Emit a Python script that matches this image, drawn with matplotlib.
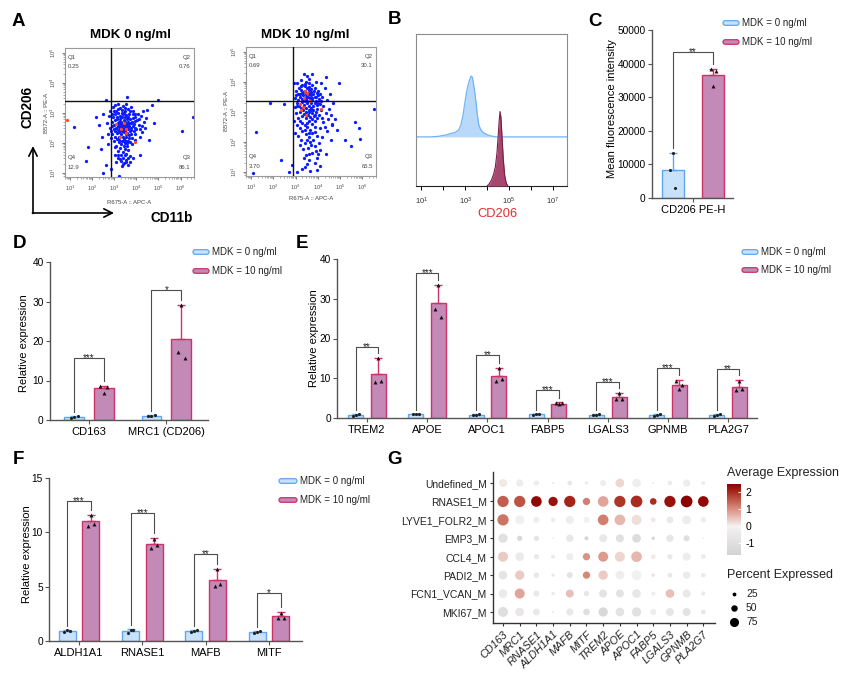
import numpy as np
import matplotlib
matplotlib.use("Agg")
import matplotlib.pyplot as plt
from matplotlib.patches import FancyBboxPatch
from matplotlib.colors import LinearSegmentedColormap, Normalize
from matplotlib.cm import ScalarMappable
from matplotlib.ticker import NullFormatter

plt.rcParams["font.family"] = ["Liberation Sans", "DejaVu Sans"]
plt.rcParams["mathtext.fontset"] = "custom"
plt.rcParams["mathtext.rm"] = "Liberation Sans"
plt.rcParams["mathtext.it"] = "Liberation Sans:italic"
plt.rcParams["mathtext.bf"] = "Liberation Sans:bold"
plt.rcParams["axes.unicode_minus"] = False

W, H = 848, 693

series = ["MDK = 0 ng/ml", "MDK = 10 ng/ml"]

# ---------------- A: flow dot plots (log10 CD11b APC, log10 CD206 PE) ----------------
a0_blue = [
    (3.05, 2.95), (3.12, 2.80), (3.20, 2.70), (3.28, 2.62), (3.35, 2.55), (3.42, 2.48), (3.50, 2.40), (3.58, 2.32),
    (3.65, 2.25), (3.00, 2.60), (3.08, 2.50), (3.15, 2.42), (3.22, 2.35), (3.30, 2.28), (3.38, 2.20), (3.45, 2.12),
    (3.55, 2.05), (3.10, 3.05), (3.18, 2.98), (3.26, 2.90), (3.34, 2.84), (3.42, 2.76), (3.50, 2.70), (3.58, 2.62),
    (3.66, 2.56), (3.74, 2.48), (3.25, 3.15), (3.34, 3.08), (3.44, 3.00), (3.52, 2.92), (3.62, 2.86), (3.72, 2.78),
    (3.80, 2.70), (3.90, 2.62), (2.95, 2.85), (2.90, 2.70), (2.98, 2.45), (2.92, 2.30), (3.02, 2.20), (3.12, 2.12),
    (3.20, 2.02), (3.30, 1.95), (3.42, 1.88), (3.60, 3.12), (3.70, 3.05), (3.85, 2.95), (3.95, 2.85), (4.05, 2.75),
    (4.12, 2.60), (4.00, 2.45), (3.88, 2.38), (3.78, 2.30), (3.68, 2.15), (3.58, 1.98), (3.48, 1.80), (3.38, 1.70),
    (3.30, 1.60), (3.40, 1.50), (3.52, 1.62), (3.62, 1.75), (3.25, 1.82), (3.15, 1.72), (3.10, 1.90), (2.98, 2.05),
    (2.85, 2.15), (2.80, 2.50), (2.75, 2.90), (2.82, 3.05), (2.95, 3.18), (3.05, 3.25), (3.18, 3.28), (3.40, 3.22),
    (3.55, 3.30), (3.75, 3.20), (4.20, 2.90), (4.30, 3.05), (4.25, 2.35), (4.15, 2.20), (3.95, 2.10), (3.80, 1.95),
    (3.72, 1.55), (3.55, 1.42), (3.45, 1.32), (3.30, 1.38), (3.18, 1.50), (3.05, 1.60), (3.60, 1.25), (3.35, 1.22),
    (3.48, 2.58), (3.32, 2.70), (3.22, 2.52), (3.15, 2.65), (3.60, 2.45), (3.70, 2.38), (3.45, 2.35), (3.28, 2.42),
    (3.38, 2.95), (3.50, 3.05), (3.65, 2.95), (3.85, 2.55), (3.92, 2.72), (4.08, 2.95), (3.12, 2.32), (3.05, 2.75),
    (2.88, 2.55), (3.52, 2.18), (3.75, 2.65), (3.62, 2.70), (3.40, 2.62), (3.25, 2.78), (3.85, 2.82), (3.95, 2.30),
    (3.35, 2.05), (3.48, 1.98), (3.20, 2.20), (4.35, 2.70), (4.45, 2.82), (4.40, 2.50), (2.70, 2.30), (2.65, 2.65),
    (2.70, 1.95), (3.10, 1.35), (3.70, 1.35), (3.85, 1.50),
    (3.33, 2.38), (3.47, 2.52), (3.57, 2.60), (3.27, 2.57), (3.37, 2.45), (3.53, 2.28), (3.63, 2.52), (3.43, 2.42),
    (3.17, 2.55), (3.27, 2.68), (3.47, 2.86), (3.57, 2.78), (3.67, 2.64), (3.77, 2.42), (3.13, 2.85), (3.03, 2.38),
    (3.23, 2.10), (3.43, 2.05), (3.63, 2.05), (3.82, 2.15), (3.92, 2.50), (3.33, 3.00), (3.47, 3.14), (3.87, 3.05),
    (3.15, 1.60), (3.47, 1.60), (3.60, 1.50), (3.25, 1.45), (3.52, 1.35), (3.38, 1.28), (3.05, 1.85), (3.58, 1.88),
    (3.70, 2.02), (2.90, 2.95), (3.95, 2.95), (4.10, 2.80), (4.18, 2.45), (3.15, 3.12), (3.00, 3.05), (2.85, 2.40),
    (2.62, 3.43), (5.00, 3.43), (3.59, 3.53), (1.18, 2.52), (2.18, 2.84), (6.57, 2.87), (6.08, 2.39), (1.80, 1.87),
    (2.40, 1.78), (1.70, 1.40), (2.62, 1.25), (2.85, 1.14), (2.47, 1.00), (3.22, 0.88), (4.16, 1.59), (4.56, 2.09),
    (4.78, 2.65), (4.49, 3.10), (4.71, 3.27), (4.26, 2.54), (2.30, 2.60), (2.50, 2.95), (2.45, 2.20),
]
a0_red = [(3.08, 2.62), (3.45, 2.66), (3.30, 2.45), (3.55, 2.47), (3.25, 2.20), (3.55, 2.33), (3.92, 2.03), (0.85, 2.76)]
a0_gate = (2.87, 3.39)
a0_quad = ["0.25", "0.76", "86.1", "12.9"]  # Q1, Q2, Q3, Q4

a1_blue = [
    (3.10, 3.60), (3.20, 3.50), (3.30, 3.42), (3.40, 3.35), (3.50, 3.28), (3.60, 3.20), (3.70, 3.12), (3.80, 3.05),
    (3.90, 2.98), (3.05, 3.30), (3.15, 3.20), (3.25, 3.12), (3.35, 3.05), (3.45, 2.98), (3.55, 2.90), (3.65, 2.82),
    (3.75, 2.75), (3.85, 2.68), (3.15, 3.80), (3.25, 3.72), (3.35, 3.65), (3.45, 3.58), (3.55, 3.50), (3.65, 3.44),
    (3.75, 3.38), (3.85, 3.30), (3.95, 3.22), (3.30, 3.90), (3.40, 3.85), (3.50, 3.78), (3.60, 3.72), (3.70, 3.65),
    (3.80, 3.58), (3.92, 3.50), (4.05, 3.42), (4.15, 3.35), (2.95, 3.45), (2.98, 3.15), (3.02, 2.95), (3.10, 2.80),
    (3.20, 2.70), (3.30, 2.62), (3.40, 2.55), (3.52, 2.48), (3.65, 2.40), (3.45, 4.00), (3.58, 3.95), (3.72, 3.88),
    (3.85, 3.80), (4.00, 3.70), (4.10, 3.60), (4.20, 3.50), (4.25, 3.20), (4.15, 3.05), (4.05, 2.90), (3.95, 2.80),
    (3.85, 2.50), (3.75, 2.30), (3.60, 2.15), (3.45, 2.25), (3.30, 2.35), (3.18, 2.45), (3.08, 2.55), (2.92, 2.70),
    (3.00, 3.70), (3.08, 3.95), (3.22, 4.05), (3.62, 4.10), (3.90, 4.00), (4.30, 3.80), (4.40, 3.40), (4.35, 2.95),
    (4.45, 2.75), (4.25, 2.65), (4.10, 2.45), (3.95, 2.20), (3.80, 2.05), (3.70, 1.90), (3.55, 1.80), (3.40, 1.95),
    (3.25, 2.05), (3.48, 3.42), (3.38, 3.22), (3.28, 3.32), (3.58, 3.05), (3.68, 3.30), (3.78, 3.18), (3.42, 3.70),
    (3.55, 3.62), (3.32, 3.55), (3.62, 2.70), (3.72, 2.95), (3.88, 2.88), (3.98, 3.10), (4.08, 3.25), (3.18, 3.00),
    (3.12, 3.40), (3.02, 3.55), (3.48, 2.78), (3.85, 3.48), (3.95, 3.62), (3.70, 3.55), (3.25, 3.85), (3.52, 4.20),
    (3.38, 4.25), (4.00, 3.30), (4.50, 3.10), (4.60, 2.90), (4.55, 3.60), (4.70, 3.30), (4.62, 2.55), (4.40, 2.35),
    (4.20, 2.15), (4.05, 1.95), (3.90, 1.70), (3.35, 1.75), (3.20, 1.90), (3.10, 2.20), (2.95, 2.30), (2.92, 3.95),
    (3.75, 4.25), (4.15, 3.95),
    (3.45, 3.48), (3.52, 3.35), (3.62, 3.58), (3.33, 3.42), (3.58, 3.83), (3.68, 3.75), (3.42, 3.93), (3.28, 3.62),
    (3.73, 3.45), (3.82, 3.68), (3.48, 3.12), (3.38, 2.92), (3.58, 2.98), (3.68, 3.05), (3.28, 2.85), (3.92, 3.35),
    (4.02, 3.55), (3.18, 3.58), (3.08, 3.18), (3.52, 2.62), (3.72, 2.60), (3.82, 2.85), (3.42, 2.40), (3.62, 2.28),
    (3.88, 2.32), (4.18, 2.80), (4.30, 2.50), (3.65, 2.00), (3.50, 2.05), (3.85, 1.85), (4.00, 1.60), (3.72, 1.62),
    (3.45, 1.55), (3.60, 1.38), (3.85, 1.30), (3.42, 1.15), (3.95, 1.05), (4.35, 1.60), (4.60, 2.05), (4.75, 2.75),
    (1.23, 2.31), (2.35, 1.38), (1.10, 0.95), (2.68, 0.98), (1.86, 3.30), (2.46, 3.24), (4.38, 4.16), (4.96, 3.94),
    (5.65, 2.65), (5.83, 2.47), (5.90, 2.09), (5.49, 1.85), (5.23, 2.06), (4.86, 2.38), (4.63, 2.60), (6.50, 3.08),
    (4.10, 1.74), (3.95, 1.45), (3.50, 1.25), (3.28, 1.09), (3.66, 1.04), (4.10, 1.20), (2.83, 1.22), (3.06, 0.98),
    (3.36, 1.47), (3.58, 1.58),
]
a1_red = [(3.40, 3.70), (3.50, 3.62), (3.38, 3.45), (3.65, 3.35), (3.35, 3.17), (3.25, 3.05), (4.15, 3.10),
          (3.45, 2.88), (3.20, 3.25)]
a1_gate = (2.88, 3.35)
a1_quad = ["0.69", "30.1", "65.5", "3.70"]

# ---------------- B: CD206 histograms (log10 intensity, normalised height) ----------------
b0_x = [0.76, 1.4, 1.8, 2.1, 2.35, 2.55, 2.7, 2.8, 2.9, 2.98, 3.06, 3.13, 3.2, 3.25, 3.29, 3.33, 3.38, 3.44,
        3.5, 3.56, 3.62, 3.7, 3.8, 3.95, 4.15, 4.4, 7.64]
b0_h = [0.0, 0.0, 0.004, 0.012, 0.022, 0.03, 0.045, 0.075, 0.14, 0.22, 0.29, 0.34, 0.375, 0.395, 0.40, 0.39,
        0.35, 0.29, 0.22, 0.14, 0.08, 0.05, 0.032, 0.018, 0.007, 0.0, 0.0]
b10_x = [4.0, 4.1, 4.2, 4.3, 4.38, 4.45, 4.5, 4.55, 4.59, 4.63, 4.68, 4.74, 4.8, 4.87, 4.94]
b10_h = [0.0, 0.015, 0.04, 0.08, 0.13, 0.22, 0.32, 0.43, 0.49, 0.45, 0.32, 0.17, 0.07, 0.02, 0.0]

# ---------------- C: MFI ----------------
c_genes = ["CD206 PE-H"]
c_ctrl_mean = [8300]
c_ctrl_sd = [5200]
c_ctrl_pts = [[8300, 13500, 2900]]
c_mdk_mean = [36700]
c_mdk_sd = [1600]
c_mdk_pts = [[38400, 33400, 37900]]
c_sig = ["**"]
c_top = [43500]

# ---------------- D ----------------
d_genes = ["CD163", "MRC1 (CD206)"]
d_ctrl_mean = [0.85, 1.1]
d_ctrl_sd = [0.15, 0.1]
d_ctrl_pts = [[0.6, 0.8, 1.0], [0.95, 1.1, 1.25]]
d_mdk_mean = [8.0, 20.6]
d_mdk_sd = [0.7, 8.5]
d_mdk_pts = [[8.6, 6.9, 8.3], [17.2, 29.0, 15.8]]
d_sig = ["***", "*"]
d_top = [15.7, 33.0]

# ---------------- E ----------------
e_genes = ["TREM2", "APOE", "APOC1", "FABP5", "LGALS3", "GPNMB", "PLA2G7"]
e_ctrl_mean = [0.8, 1.0, 0.85, 0.9, 0.85, 0.8, 0.8]
e_ctrl_sd = [0.15, 0.1, 0.1, 0.1, 0.1, 0.15, 0.15]
e_ctrl_pts = [[0.55, 0.75, 0.95], [0.9, 1.0, 1.1], [0.7, 0.85, 0.95], [0.8, 0.9, 1.0],
              [0.7, 0.85, 0.95], [0.55, 0.8, 0.95], [0.6, 0.8, 0.95]]
e_mdk_mean = [11.0, 28.9, 10.5, 3.6, 5.4, 8.3, 7.8]
e_mdk_sd = [4.2, 4.6, 2.2, 0.35, 1.0, 1.2, 1.7]
e_mdk_pts = [[9.0, 15.0, 9.3], [27.4, 33.5, 25.3], [9.3, 12.5, 9.8], [3.7, 3.5, 3.7],
             [4.8, 6.3, 4.8], [9.3, 7.2, 8.4], [7.0, 9.3, 7.2]]
e_sig = ["**", "***", "**", "***", "***", "***", "**"]
e_top = [17.9, 36.5, 15.8, 7.0, 9.1, 12.6, 12.3]

# ---------------- F ----------------
f_genes = ["ALDH1A1", "RNASE1", "MAFB", "MITF"]
f_ctrl_mean = [0.95, 0.95, 0.9, 0.85]
f_ctrl_sd = [0.1, 0.12, 0.1, 0.1]
f_ctrl_pts = [[0.85, 1.0, 0.95], [0.7, 1.05, 1.05], [0.8, 0.9, 1.0], [0.75, 0.85, 0.95]]
f_mdk_mean = [11.0, 8.95, 5.6, 2.3]
f_mdk_sd = [0.6, 0.55, 1.0, 0.35]
f_mdk_pts = [[10.6, 11.6, 10.8], [8.6, 9.4, 8.8], [5.1, 6.6, 5.2], [2.15, 2.6, 2.15]]
f_sig = ["***", "***", "**", "*"]
f_top = [12.9, 11.8, 8.0, 4.4]

# ---------------- G: dot plot ----------------
g_genes = ["CD163", "MRC1", "RNASE1", "ALDH1A1", "MAFB", "MITF", "TREM2", "APOE", "APOC1",
           "FABP5", "LGALS3", "GPNMB", "PLA2G7"]
g_clusters = ["Undefined_M", "RNASE1_M", "LYVE1_FOLR2_M", "EMP3_M", "CCL4_M", "PADI2_M",
              "FCN1_VCAN_M", "MKI67_M"]
g_avg = [
    [0.1, -0.3, -0.3, -0.5, -0.6, 0.1, -0.2, 0.3, -0.2, -0.3, -0.4, -0.3, -0.3],
    [1.5, 1.6, 2.4, 2.3, 2.1, 1.2, 0.8, 1.9, 2.0, 2.0, 2.3, 2.5, 2.4],
    [1.3, -0.1, -0.2, -0.3, -0.2, -0.1, 1.2, 0.6, 0.2, -0.5, -0.5, -0.3, -0.3],
    [-0.9, -1.4, -0.7, -0.6, -0.6, -1.5, -0.5, -0.9, -1.2, -1.5, -0.6, -1.0, -0.5],
    [0.4, -0.4, -0.5, -0.4, -0.2, 1.0, 0.9, 0.3, 0.6, 0.1, -0.5, -0.3, -0.4],
    [-0.7, 0.4, -0.6, -0.5, -0.8, 1.1, 0.4, -0.2, -0.05, 0.2, -0.6, -0.4, -0.4],
    [-0.4, 0.8, -0.5, -0.5, 0.5, -0.6, -0.8, -0.8, -0.6, -0.3, 0.5, -0.5, -0.5],
    [-1.0, -0.6, -0.5, -0.6, -0.5, -1.0, -1.4, -0.8, -0.9, -0.3, -0.6, -0.8, -0.6],
]
g_pct = [
    [65, 58, 39, 8, 33, 20, 46, 71, 71, 8, 33, 58, 27],
    [96, 96, 90, 77, 96, 58, 90, 96, 100, 52, 96, 100, 90],
    [96, 74, 46, 33, 65, 46, 90, 90, 84, 33, 52, 71, 39],
    [77, 39, 39, 3, 58, 27, 65, 65, 71, 20, 58, 46, 3],
    [84, 71, 39, 27, 58, 58, 84, 84, 90, 33, 39, 65, 33],
    [71, 77, 39, 20, 46, 58, 77, 71, 84, 20, 33, 58, 33],
    [71, 84, 46, 20, 65, 39, 65, 65, 71, 27, 71, 65, 27],
    [84, 71, 52, 8, 58, 52, 77, 71, 77, 46, 65, 65, 33],
]
g_pct_legend = [25, 50, 75]
g_cbar_ticks = [-1, 0, 1, 2]

BLUE_FACE, BLUE_EDGE = "#c9e2fb", "#5ea6f2"
RED_FACE, RED_EDGE = "#c38ab7", "#cf3169"


def px_rect(x0, y0, x1, y1):
    return [x0 / W, 1 - y1 / H, (x1 - x0) / W, (y1 - y0) / H]


def flow_panel(ax, blue, red, gate, quad):
    b = np.array(blue)
    r = np.array(red)
    ax.set_xscale("log")
    ax.set_yscale("log")
    ax.scatter(10 ** b[:, 0], 10 ** b[:, 1], s=5.5, marker="o", c="#0b1cff", linewidths=0, zorder=2)
    ax.scatter(10 ** r[:, 0], 10 ** r[:, 1], s=5.5, marker="o", c="#ff4b1f", linewidths=0, zorder=3)
    ax.axvline(10 ** gate[0], color="#111111", lw=1.0, zorder=4)
    ax.axhline(10 ** gate[1], color="#111111", lw=1.0, zorder=4)
    ax.set_xlim(10 ** 0.77, 10 ** 6.61)
    ax.set_ylim(10 ** 0.86, 10 ** 5.15)
    ax.set_xticks([10.0 ** k for k in range(1, 7)], [f"$10^{{{k}}}$" for k in range(1, 7)])
    ax.set_yticks([10.0 ** k for k in range(1, 6)], [f"$10^{{{k}}}$" for k in range(1, 6)])
    ax.xaxis.set_minor_formatter(NullFormatter())
    ax.yaxis.set_minor_formatter(NullFormatter())
    ax.tick_params(which="major", length=2.5, width=0.6, color="#666666", labelsize=4.2,
                   labelcolor="#555555", pad=2.5)
    ax.tick_params(which="minor", length=1.3, width=0.5, color="#888888")
    for lab in ax.get_yticklabels():
        lab.set_rotation(90)
        lab.set_va("center")
    for sp in ax.spines.values():
        sp.set_color("#9a9a9a")
        sp.set_linewidth(0.8)
    kw = dict(transform=ax.transAxes, fontsize=4.3, color="#444444", va="center")
    ax.text(0.02, 0.93, "Q1", ha="left", **kw)
    ax.text(0.02, 0.855, quad[0], ha="left", **kw)
    ax.text(0.975, 0.93, "Q2", ha="right", **kw)
    ax.text(0.975, 0.855, quad[1], ha="right", **kw)
    ax.text(0.975, 0.15, "Q3", ha="right", **kw)
    ax.text(0.975, 0.075, quad[2], ha="right", **kw)
    ax.text(0.02, 0.15, "Q4", ha="left", **kw)
    ax.text(0.02, 0.075, quad[3], ha="left", **kw)


def bar_panel(ax, genes, c_mean, c_sd, c_pts, m_mean, m_sd, m_pts, sig, top,
              ymax, ystep, off, width, xlim, jit=0.045):
    n = len(genes)
    pos = np.arange(n)
    c_mean, c_sd = np.asarray(c_mean, float), np.asarray(c_sd, float)
    m_mean, m_sd = np.asarray(m_mean, float), np.asarray(m_sd, float)
    ax.bar(pos - off, c_mean, width, color=BLUE_FACE, edgecolor=BLUE_EDGE, linewidth=1.0, zorder=2)
    ax.bar(pos + off, m_mean, width, color=RED_FACE, edgecolor=RED_EDGE, linewidth=1.0, zorder=2)
    zeros = np.zeros(n)
    ax.errorbar(pos - off, c_mean, yerr=[zeros, c_sd], fmt="none", ecolor=BLUE_EDGE,
                elinewidth=1.0, capsize=2.6, capthick=1.0, zorder=3)
    ax.errorbar(pos + off, m_mean, yerr=[zeros, m_sd], fmt="none", ecolor=RED_EDGE,
                elinewidth=1.0, capsize=2.6, capthick=1.0, zorder=3)
    dx = np.array([-1.0, 0.0, 1.0]) * jit
    for i in range(n):
        ax.scatter(pos[i] - off + dx, c_pts[i], s=5, marker="o", c="#222222", linewidths=0, zorder=4)
        ax.scatter(pos[i] + off + dx, m_pts[i], s=8, marker="^", c="#111111", linewidths=0, zorder=4)
        xl, xr = pos[i] - off, pos[i] + off
        yl = c_mean[i] + c_sd[i] + 0.025 * ymax
        yr = m_mean[i] + m_sd[i] + 0.03 * ymax
        ax.plot([xl, xl, xr, xr], [yl, top[i], top[i], yr], color="#4d4d4d", lw=0.8, zorder=3)
        ax.annotate(sig[i], ((xl + xr) / 2, top[i]), xytext=(0, -2.4), textcoords="offset points",
                    ha="center", va="baseline", fontsize=7, color="#222222")
    ax.set_xlim(*xlim)
    ax.set_ylim(0, ymax)
    ax.set_xticks(pos, genes)
    yt = np.arange(0, ymax + 0.5 * ystep, ystep)
    ax.set_yticks(yt, [f"{int(v)}" for v in yt])
    ax.spines[["top", "right"]].set_visible(False)
    for s in ["left", "bottom"]:
        ax.spines[s].set_color("#555555")
        ax.spines[s].set_linewidth(1.0)
    ax.tick_params(axis="y", length=3, width=0.8, color="#555555", labelsize=7.3, pad=1.5)
    ax.tick_params(axis="x", length=3, width=0.8, color="#555555", labelsize=8, pad=2)


fig = plt.figure(figsize=(W / 100, H / 100), dpi=100)

# A
ax_a0 = fig.add_axes(px_rect(65, 48, 194, 177))
flow_panel(ax_a0, a0_blue, a0_red, a0_gate, a0_quad)
ax_a1 = fig.add_axes(px_rect(246, 47, 376, 176))
flow_panel(ax_a1, a1_blue, a1_red, a1_gate, a1_quad)

# B
ax_b = fig.add_axes(px_rect(416, 34, 567, 186))
ax_b.set_xscale("log")
base = 0.323
bx0 = 10 ** np.array(b0_x)
bx10 = 10 ** np.array(b10_x)
ax_b.fill_between(bx0, base, base + np.array(b0_h), color="#b9d9fb", lw=0, zorder=1)
ax_b.plot(bx0, base + np.array(b0_h), color="#6fb3f8", lw=0.9, zorder=2)
ax_b.fill_between(bx10, 0, b10_h, color="#a5476f", lw=0, zorder=3)
ax_b.plot(bx10, b10_h, color="#7a1d44", lw=0.8, zorder=4)
ax_b.set_xlim(10 ** 0.76, 10 ** 7.64)
ax_b.set_ylim(0, 1)
ax_b.set_xticks([10.0 ** k for k in range(1, 8)],
                [f"$10^{{{k}}}$" if k % 2 == 1 else "" for k in range(1, 8)])
ax_b.xaxis.set_minor_formatter(NullFormatter())
ax_b.set_yticks([])
ax_b.tick_params(which="major", length=3, width=0.7, labelsize=5.5, labelcolor="#333333", pad=4)
ax_b.tick_params(which="minor", length=1.6, width=0.5)
for s in ["top", "left", "right"]:
    ax_b.spines[s].set_color("#8c8c8c")
    ax_b.spines[s].set_linewidth(0.8)
ax_b.spines["bottom"].set_color("#222222")
ax_b.spines["bottom"].set_linewidth(0.8)

# C
ax_c = fig.add_axes(px_rect(652, 30, 733, 198))
bar_panel(ax_c, c_genes, c_ctrl_mean, c_ctrl_sd, c_ctrl_pts, c_mdk_mean, c_mdk_sd, c_mdk_pts,
          c_sig, c_top, 50000, 10000, 0.5, 0.545, (-1.015, 0.99), jit=0.06)

# D
ax_d = fig.add_axes(px_rect(50, 262, 208, 420))
bar_panel(ax_d, d_genes, d_ctrl_mean, d_ctrl_sd, d_ctrl_pts, d_mdk_mean, d_mdk_sd, d_mdk_pts,
          d_sig, d_top, 40, 10, 0.192, 0.256, (-0.506, 1.54))

# E
ax_e = fig.add_axes(px_rect(337, 259, 757, 418))
bar_panel(ax_e, e_genes, e_ctrl_mean, e_ctrl_sd, e_ctrl_pts, e_mdk_mean, e_mdk_sd, e_mdk_pts,
          e_sig, e_top, 40, 10, 0.188, 0.25, (-0.498, 6.48), jit=0.05)

# F
ax_f = fig.add_axes(px_rect(49, 478, 302, 641))
bar_panel(ax_f, f_genes, f_ctrl_mean, f_ctrl_sd, f_ctrl_pts, f_mdk_mean, f_mdk_sd, f_mdk_pts,
          f_sig, f_top, 15, 5, 0.186, 0.27, (-0.474, 3.52))

# G
ax_g = fig.add_axes(px_rect(493, 472, 715, 623))
cmap = LinearSegmentedColormap.from_list(
    "avgexp", [(0.0, "#d3d3d3"), (1.7 / 4.2, "#f4f1f1"), (2.7 / 4.2, "#db9282"),
               (3.7 / 4.2, "#a92d1f"), (1.0, "#8b0000")])
norm = Normalize(-1.7, 2.5)


def dot_size(p):
    d_px = 1.2 + 0.105 * np.asarray(p, float)
    return (d_px * 0.72) ** 2


gx, gy = np.meshgrid(np.arange(len(g_genes)), np.arange(len(g_clusters)))
ax_g.scatter(gx.ravel(), gy.ravel(), s=dot_size(np.array(g_pct).ravel()), c=np.array(g_avg).ravel(),
             cmap=cmap, norm=norm, linewidths=0, zorder=2)
ax_g.set_xlim(-0.6, 12.7)
ax_g.set_ylim(7.6, -0.6)
ax_g.set_xticks(np.arange(len(g_genes)))
ax_g.set_xticklabels(g_genes, rotation=45, ha="right", va="top", rotation_mode="anchor",
                     fontsize=7.8, style="italic", color="#222222")
ax_g.set_yticks(np.arange(len(g_clusters)), g_clusters, fontsize=7.5, color="#222222")
ax_g.spines[["top", "right"]].set_visible(False)
for s in ["left", "bottom"]:
    ax_g.spines[s].set_color("#333333")
    ax_g.spines[s].set_linewidth(1.0)
ax_g.tick_params(length=2.5, width=0.8, color="#333333", pad=2)

cax = fig.add_axes(px_rect(727, 484, 741, 555))
cb = fig.colorbar(ScalarMappable(norm=norm, cmap=cmap), cax=cax)
cb.outline.set_visible(False)
cb.set_ticks(g_cbar_ticks, labels=[str(t) for t in g_cbar_ticks])
cax.tick_params(length=2.5, width=0.7, color="white", direction="in", labelsize=7.5, pad=3)

# overlay for labels, legends, arrows
ax0 = fig.add_axes([0, 0, 1, 1])
ax0.set_xlim(0, W)
ax0.set_ylim(H, 0)
ax0.axis("off")
ax0.set_zorder(10)

for letter, x, y in [("A", 12, 21), ("B", 388, 20), ("C", 588, 21), ("D", 13, 244),
                     ("E", 296, 244), ("F", 13, 460), ("G", 387, 460)]:
    ax0.text(x, y, letter, fontsize=13.5, fontweight="bold", ha="left", va="center")

ax0.text(131, 35, "MDK 0 ng/ml", fontsize=9.6, fontweight="bold", ha="center", va="center")
ax0.text(305, 35, "MDK 10 ng/ml", fontsize=9.6, fontweight="bold", ha="center", va="center")
ax0.text(28, 107, "CD206", fontsize=9.8, fontweight="bold", rotation=90, ha="center", va="center")
ax0.text(172, 218, "CD11b", fontsize=9.8, fontweight="bold", ha="center", va="center")
arrow_kw = dict(arrowstyle="->,head_length=0.6,head_width=0.3", lw=1.2, color="black",
                shrinkA=0, shrinkB=0)
ax0.annotate("", xy=(33, 146), xytext=(33, 213.5), arrowprops=arrow_kw)
ax0.annotate("", xy=(114, 213), xytext=(32.4, 213), arrowprops=arrow_kw)

for xc, yc in [(129, 202), (311, 199)]:
    ax0.text(xc, yc, "R675-A :: APC-A", fontsize=4.3, color="#444444", ha="center", va="center")
for xc, yc in [(47, 113), (227, 111)]:
    ax0.text(xc, yc, "B572-A :: PE-A", fontsize=4.3, color="#444444", rotation=90, ha="center", va="center")

ax0.text(497, 214, "CD206", fontsize=9.3, color="#e0302e", ha="center", va="center")

ax0.text(612, 109, "Mean fluorescence intensity", fontsize=8, rotation=90, ha="center", va="center")
for xc, yc in [(24, 343), (314, 338), (27, 554)]:
    ax0.text(xc, yc, "Relative expression", fontsize=8, rotation=90, ha="center", va="center")


def legend_pair(x, y1, y2, wpx=16):
    for y, fc, ec, lab in [(y1, BLUE_FACE, BLUE_EDGE, series[0]), (y2, RED_FACE, RED_EDGE, series[1])]:
        ax0.add_patch(FancyBboxPatch((x, y - 2.3), wpx, 4.6, boxstyle="round,pad=0,rounding_size=2.3",
                                     fc=fc, ec=ec, lw=0.9))
        ax0.text(x + wpx + 3, y, lab, fontsize=7, ha="left", va="center", color="#222222")


legend_pair(723, 23, 42)
legend_pair(193, 252, 271)
legend_pair(742, 252, 270)
legend_pair(279, 481, 500, wpx=18)

ax0.text(727, 473, "Average Expression", fontsize=9, ha="left", va="center", color="#222222")
ax0.text(727, 575, "Percent Expressed", fontsize=9, ha="left", va="center", color="#222222")
for p, yc in zip(g_pct_legend, [594, 608, 622]):
    ax0.scatter([734], [yc], s=dot_size(p), c="black", linewidths=0)
    ax0.text(746, yc, str(p), fontsize=7.5, ha="left", va="center", color="#222222")

fig.savefig("out.png", dpi=100)
